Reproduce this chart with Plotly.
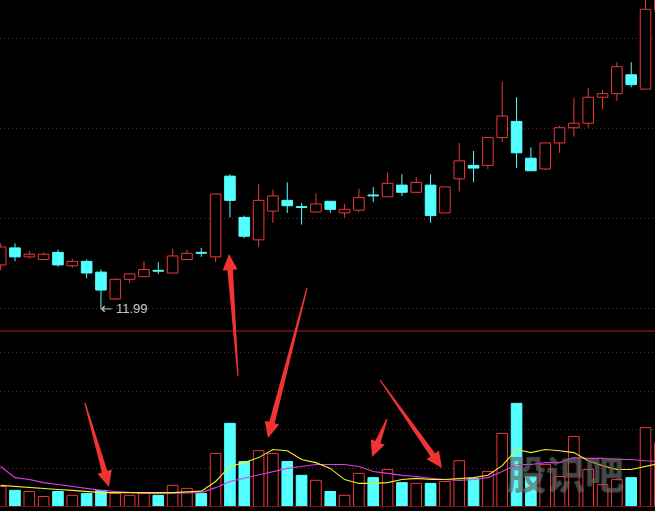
import plotly.graph_objects as go

# ---------------- data ----------------
idx = list(range(47))
opens = [12.48, 12.67, 12.57, 12.54, 12.62, 12.47, 12.52, 12.40, 12.10, 12.32,
         12.35, 12.42, 12.39, 12.54, 12.62, 12.57, 13.47, 13.01, 12.76, 13.08,
         13.20, 13.13, 13.07, 13.19, 13.06, 13.09, 13.26, 13.24, 13.37, 13.29,
         13.37, 13.06, 13.44, 13.59, 13.59, 13.90, 14.08, 13.67, 13.55, 13.84,
         14.01, 14.06, 14.35, 14.39, 14.60, 14.44, 15.32]
highs = [12.72, 12.72, 12.64, 12.62, 12.65, 12.55, 12.54, 12.43, 12.33, 12.38,
         12.52, 12.51, 12.66, 12.65, 12.67, 13.27, 13.49, 13.03, 13.38, 13.32,
         13.40, 13.17, 13.28, 13.19, 13.16, 13.33, 13.35, 13.51, 13.49, 13.46,
         13.49, 13.35, 13.84, 13.75, 13.90, 14.52, 14.35, 13.79, 13.84, 14.03,
         14.34, 14.45, 14.43, 14.74, 14.74, 15.45, 16.00]
lows = [12.42, 12.52, 12.55, 12.54, 12.46, 12.45, 12.33, 11.99, 12.09, 12.28,
        12.35, 12.38, 12.39, 12.54, 12.57, 12.51, 13.01, 12.78, 12.68, 12.95,
        13.06, 12.93, 13.07, 13.06, 13.01, 13.07, 13.18, 13.24, 13.25, 13.29,
        12.95, 13.06, 13.30, 13.40, 13.55, 13.85, 13.56, 13.53, 13.54, 13.73,
        13.91, 14.01, 14.21, 14.31, 14.46, 14.44, 15.30]
closes = [12.68, 12.57, 12.60, 12.60, 12.48, 12.52, 12.39, 12.20, 12.32, 12.38,
          12.43, 12.41, 12.58, 12.61, 12.61, 13.27, 13.20, 12.80, 13.20, 13.25,
          13.14, 13.12, 13.16, 13.10, 13.10, 13.23, 13.25, 13.39, 13.29, 13.40,
          13.03, 13.35, 13.64, 13.56, 13.90, 14.14, 13.73, 13.53, 13.84, 14.01,
          14.06, 14.35, 14.39, 14.69, 14.49, 15.33, 15.90]
volumes = [0.52, 0.42, 0.39, 0.26, 0.39, 0.29, 0.34, 0.42, 0.34, 0.29,
           0.34, 0.29, 0.55, 0.47, 0.34, 1.38, 2.16, 1.17, 1.45, 1.38,
           1.17, 0.81, 0.68, 0.39, 0.29, 0.86, 0.75, 0.96, 0.62, 0.60,
           0.60, 0.65, 1.19, 0.73, 0.91, 1.90, 2.68, 0.78, 1.09, 0.78,
           1.82, 0.96, 0.57, 0.70, 0.75, 2.05, 1.66]
vol_ma5 = [0.55, 0.52, 0.49, 0.47, 0.44, 0.42, 0.39, 0.36, 0.36, 0.36,
           0.36, 0.36, 0.36, 0.38, 0.40, 0.65, 1.04, 1.14, 1.27, 1.48,
           1.45, 1.22, 1.14, 0.99, 0.70, 0.60, 0.60, 0.62, 0.70, 0.73,
           0.70, 0.70, 0.73, 0.75, 0.81, 1.06, 1.48, 1.40, 1.48, 1.45,
           1.40, 1.19, 1.06, 0.96, 0.96, 1.04, 1.12]
vol_ma10 = [1.04, 0.75, 0.70, 0.62, 0.57, 0.52, 0.47, 0.42, 0.39, 0.36,
            0.34, 0.34, 0.34, 0.35, 0.36, 0.49, 0.65, 0.73, 0.83, 0.91,
            0.99, 1.04, 1.09, 1.09, 1.09, 1.04, 0.91, 0.86, 0.81, 0.78,
            0.73, 0.70, 0.68, 0.70, 0.75, 0.91, 1.09, 1.09, 1.14, 1.14,
            1.27, 1.25, 1.25, 1.22, 1.22, 1.19, 1.17]
price_grid = [12, 13, 14, 15]
vol_grid = [1, 2, 3, 4]
low_text = "11.99"
low_index = 7
low_value = 11.99
watermark = "股识吧"

# ---------------- styling ----------------
W, H = 655, 511
UP = "rgb(236,56,56)"
DOWN = "rgb(84,255,255)"
GRID = "rgb(125,28,28)"
SEP = "rgb(170,32,32)"
ARROW = "rgb(240,52,52)"
BODY_W = 0.74

up = [i for i in idx if closes[i] > opens[i]]
dn = [i for i in idx if closes[i] <= opens[i]]


def wick_xy(sel):
    xs, ys = [], []
    for i in sel:
        top = max(opens[i], closes[i])
        bot = min(opens[i], closes[i])
        xs += [i, i, None, i, i, None]
        ys += [highs[i], top, None, bot, lows[i], None]
    return xs, ys


fig = go.Figure()

# volume bars
for sel, fill, col in ((up, "black", UP), (dn, DOWN, DOWN)):
    fig.add_trace(go.Bar(
        x=sel, y=[volumes[i] for i in sel], width=BODY_W,
        marker=dict(color=fill, line=dict(color=col, width=1)),
        xaxis="x", yaxis="y2", hoverinfo="skip", showlegend=False))

# candle bodies
for sel, fill, col in ((up, "black", UP), (dn, DOWN, DOWN)):
    fig.add_trace(go.Bar(
        x=sel,
        base=[min(opens[i], closes[i]) for i in sel],
        y=[max(abs(closes[i] - opens[i]), 0.004) for i in sel],
        width=BODY_W,
        marker=dict(color=fill, line=dict(color=col, width=1)),
        xaxis="x", yaxis="y", hoverinfo="skip", showlegend=False))

# wicks
for sel, col in ((up, UP), (dn, DOWN)):
    wx, wy = wick_xy(sel)
    fig.add_trace(go.Scatter(x=wx, y=wy, mode="lines",
                             line=dict(color=col, width=1),
                             xaxis="x", yaxis="y", hoverinfo="skip",
                             showlegend=False))

# volume moving averages
fig.add_trace(go.Scatter(x=idx, y=vol_ma10, mode="lines",
                         line=dict(color="rgb(225,60,225)", width=1.1),
                         xaxis="x", yaxis="y2", hoverinfo="skip", showlegend=False))
fig.add_trace(go.Scatter(x=idx, y=vol_ma5, mode="lines",
                         line=dict(color="rgb(240,240,40)", width=1.1),
                         xaxis="x", yaxis="y2", hoverinfo="skip", showlegend=False))

# ---------------- layout ----------------
sep_y = (H - 331) / H
bot_y = (H - 506.5) / H


def arrow_shape(tx, ty, hx, hy, hl=16, hw=7.5, sw=2.8, tw=0.6):
    dx, dy = hx - tx, hy - ty
    L = (dx * dx + dy * dy) ** 0.5
    ux, uy = dx / L, dy / L
    nx, ny = -uy, ux
    bx, by = hx - ux * hl, hy - uy * hl
    pts = [(tx + nx * tw, ty + ny * tw), (bx + nx * sw, by + ny * sw),
           (bx + nx * hw, by + ny * hw), (hx, hy),
           (bx - nx * hw, by - ny * hw), (bx - nx * sw, by - ny * sw),
           (tx - nx * tw, ty - ny * tw)]
    path = "M " + " L ".join(f"{px / W:.5f},{1 - py / H:.5f}" for px, py in pts) + " Z"
    return dict(type="path", xref="paper", yref="paper", path=path,
                fillcolor=ARROW, line=dict(width=0), layer="above")


shapes = [
    dict(type="line", xref="paper", yref="paper", x0=0, x1=1, y0=sep_y, y1=sep_y,
         line=dict(color=SEP, width=1)),
    dict(type="line", xref="paper", yref="paper", x0=0, x1=1, y0=bot_y, y1=bot_y,
         line=dict(color="rgb(120,24,24)", width=1)),
    arrow_shape(85, 403, 109, 487),
    arrow_shape(238, 376, 229, 254),
    arrow_shape(307, 288, 268, 438),
    arrow_shape(387, 419, 372, 457),
    arrow_shape(380, 380, 442, 468),
]

fig.update_layout(
    width=W, height=H,
    margin=dict(l=0, r=0, t=0, b=0),
    paper_bgcolor="black", plot_bgcolor="black",
    barmode="overlay", showlegend=False,
    xaxis=dict(range=[-0.045, 45.66], showgrid=False, zeroline=False,
               showticklabels=False, ticks="", showline=False, fixedrange=True),
    yaxis=dict(domain=[sep_y, 1], range=[11.7436, 15.4337],
               tickvals=price_grid, showgrid=True, gridcolor=GRID,
               griddash="1px,3px", gridwidth=1, zeroline=False,
               showticklabels=False, ticks="", showline=False),
    yaxis2=dict(domain=[bot_y, sep_y], range=[0, 4.56], anchor="x",
                tickvals=vol_grid, showgrid=True, gridcolor=GRID,
                griddash="1px,3px", gridwidth=1, zeroline=False,
                showticklabels=False, ticks="", showline=False),
    shapes=shapes,
    annotations=[
        # pointer from the label back to the low wick
        dict(x=low_index, y=low_value, xref="x", yref="y",
             ax=12, ay=0, text="",
             showarrow=True, arrowhead=4, arrowsize=1.1, arrowwidth=1,
             arrowcolor="rgb(200,200,200)", standoff=0, startstandoff=0),
        dict(x=low_index, y=low_value, xref="x", yref="y", text=low_text,
             showarrow=False, xanchor="left", yanchor="middle", xshift=13,
             font=dict(family="Liberation Sans, DejaVu Sans", size=13,
                       color="rgb(200,200,200)")),
        dict(x=565 / W, y=1 - 472 / H, xref="paper", yref="paper",
             text=watermark, showarrow=False, xanchor="center", yanchor="middle",
             font=dict(family="Noto Sans CJK SC", size=39, weight=700,
                       color="rgba(70,70,70,0.5)",
                       shadow="0px 0px 1.5px rgba(200,200,200,0.75)")),
    ],
)

fig.write_html(
    "out.html",
    config={"displayModeBar": False},
    post_script="document.body.style.margin='0';document.body.style.background='black';",
)
